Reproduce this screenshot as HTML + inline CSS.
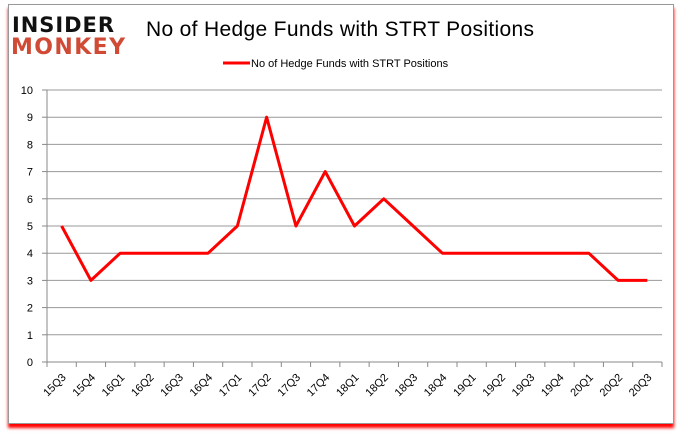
<!DOCTYPE html>
<html><head><meta charset="utf-8"><style>
body{margin:0;width:680px;height:433px;background:#fff;font-family:"Liberation Sans",sans-serif;overflow:hidden}
#frame{position:absolute;left:8px;top:4px;width:664px;height:418px;border:1px solid #999;box-shadow:0 4px 3px #f00;background:#fff}
</style></head><body>
<div id="frame"></div>
<svg width="680" height="433" style="position:absolute;left:0;top:0" id="svg">
<g>
<text x="12" y="32" font-family="DejaVu Sans" font-weight="bold" font-size="21" fill="#111" textLength="102">INSIDER</text>
<text x="11" y="54" font-family="DejaVu Sans" font-weight="bold" font-size="22" fill="#d04a35" textLength="114">MONKEY</text>
</g>
<text x="146" y="36" font-size="21" fill="#000" textLength="388">No of Hedge Funds with STRT Positions</text>
<line x1="223" y1="63" x2="250" y2="63" stroke="#f00" stroke-width="3"/>
<text x="251" y="67" font-size="11" fill="#000">No of Hedge Funds with STRT Positions</text>
<g id="grid"></g><g id="axes"></g><g id="series"></g>
</svg>
<script>
const categories=["15Q3","15Q4","16Q1","16Q2","16Q3","16Q4","17Q1","17Q2","17Q3","17Q4","18Q1","18Q2","18Q3","18Q4","19Q1","19Q2","19Q3","19Q4","20Q1","20Q2","20Q3"];
const values=[5,3,4,4,4,4,5,9,5,7,5,6,5,4,4,4,4,4,4,3,3];
const yTicks=[0,1,2,3,4,5,6,7,8,9,10];
const NS="http://www.w3.org/2000/svg";
const L=47,R=662,T=90,B=362;
const step=(R-L)/categories.length;
const xs=i=>L+step*(i+0.5);
const ys=v=>B-(v/10)*(B-T);
function mk(tag,attrs,parent,text){const e=document.createElementNS(NS,tag);for(const k in attrs)e.setAttribute(k,attrs[k]);if(text!=null)e.textContent=text;document.getElementById(parent).appendChild(e);return e;}
yTicks.forEach(v=>{
 const g=mk('line',{x1:L,x2:R,y1:ys(v),y2:ys(v),stroke:v===0?'#888':'#999','stroke-width':1},'grid');
 
 
 const tk=mk('line',{x1:L-5,x2:L,y1:ys(v),y2:ys(v),stroke:'#888'},'axes');
 
 
 const t=mk('text',{x:L-14,y:ys(v)+4,'font-size':11,'text-anchor':'end',fill:'#000'},'axes',v);
 
 
});
const ya=mk('line',{x1:L,x2:L,y1:T,y2:B,stroke:'#888'},'axes');


categories.forEach((c,i)=>{
 const x=L+step*(i+1);
 const tk=mk('line',{x1:x,x2:x,y1:B,y2:B+5,stroke:'#888'},'axes');
 
 
 const cx=xs(i);
 const t=mk('text',{x:cx+5,y:B+16,'font-size':11,'text-anchor':'end',fill:'#000',transform:`rotate(-45 ${cx+5} ${B+16})`},'axes',c);
 
 
});
const xt=mk('line',{x1:L,x2:L,y1:B,y2:B+5,stroke:'#888'},'axes');


const pts=values.map((v,i)=>xs(i)+','+ys(v)).join(' ');
const pl=mk('polyline',{points:pts,fill:'none',stroke:'#f00','stroke-width':3,'stroke-linejoin':'round'},'series');


</script>
</body></html>
